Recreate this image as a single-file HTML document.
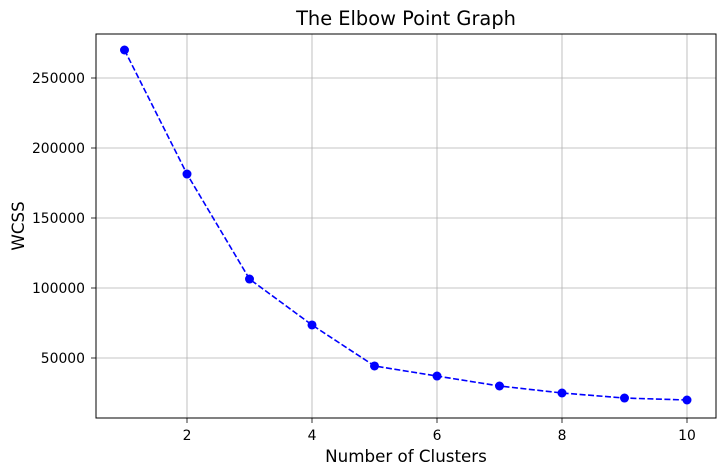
<!DOCTYPE html>
<html><head><meta charset="utf-8"><style>
html,body{margin:0;padding:0;background:#fff;}
svg{display:block;font-family:"DejaVu Sans","Liberation Sans",sans-serif;}
</style></head><body>
<svg id="chart" width="725" height="475"></svg>
<script>
const categories=[1,2,3,4,5,6,7,8,9,10];
const wcssValues=[270000,181400,106400,73600,44300,37100,30000,25000,21400,20000];
const xTicks=[2,4,6,8,10];
const yTicks=[50000,100000,150000,200000,250000];

const L=96,R=716,T=34,B=418;
const xs=v=>124.5+(v-1)*62.5;
const ys=v=>428-v*70/50000;
const svg=document.getElementById('chart');
const NS='http://www.w3.org/2000/svg';
function mk(tag,attrs,parent){const e=document.createElementNS(NS,tag);for(const k in attrs)e.setAttribute(k,attrs[k]);(parent||svg).appendChild(e);return e;}

const grid=mk('g',{});


xTicks.forEach(t=>{
  const l=mk('line',{x1:xs(t),x2:xs(t),y1:T,y2:B,stroke:'#b0b0b0','stroke-width':0.8},grid);
  
  
  const tk=mk('line',{x1:xs(t),x2:xs(t),y1:B,y2:B+5,stroke:'#000','stroke-width':0.8});
  
  
  const tx=mk('text',{x:xs(t),y:B+22,'text-anchor':'middle','font-size':13.9});
  tx.textContent=t;
  
  
});
yTicks.forEach(t=>{
  const l=mk('line',{x1:L,x2:R,y1:ys(t),y2:ys(t),stroke:'#b0b0b0','stroke-width':0.8},grid);
  
  
  const tk=mk('line',{x1:L-5,x2:L,y1:ys(t),y2:ys(t),stroke:'#000','stroke-width':0.8});
  
  
  const tx=mk('text',{x:L-11,y:ys(t)+5,'text-anchor':'end','font-size':13.9});
  tx.textContent=t;
  
  
});

const pts=categories.map((c,i)=>xs(c)+','+ys(wcssValues[i])).join(' ');
const line=mk('polyline',{points:pts,fill:'none',stroke:'#0000ff','stroke-width':1.6,'stroke-dasharray':'6,2.5'});


categories.forEach((c,i)=>{
  const p=mk('circle',{cx:xs(c),cy:ys(wcssValues[i]),r:4.5,fill:'#0000ff'});
  
  
});

const frame=mk('rect',{x:L,y:T,width:R-L,height:B-T,fill:'none',stroke:'#000','stroke-width':1});



const title=mk('text',{x:(L+R)/2,y:25,'text-anchor':'middle','font-size':19.4});
title.textContent='The Elbow Point Graph';


const xl=mk('text',{x:(L+R)/2,y:462,'text-anchor':'middle','font-size':16.7});
xl.textContent='Number of Clusters';


const yl=mk('text',{x:0,y:0,'text-anchor':'middle','font-size':16.7,transform:'translate(24,'+((T+B)/2)+') rotate(-90)'});
yl.textContent='WCSS';


</script>
</body></html>
